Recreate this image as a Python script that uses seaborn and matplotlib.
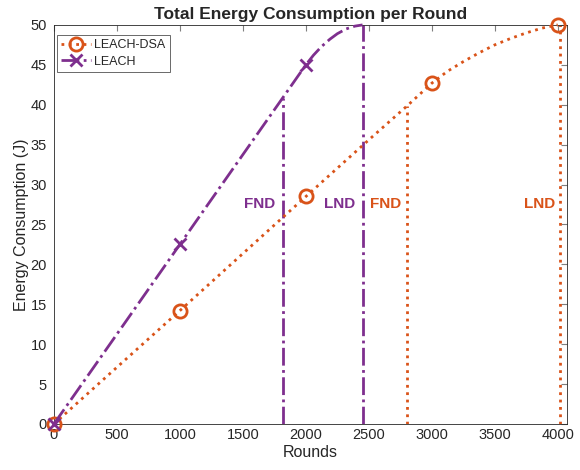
import matplotlib
matplotlib.use("Agg")
import matplotlib.pyplot as plt
import seaborn as sns
import pandas as pd

# datos
dsa_rounds = [0, 500, 1000, 1500, 2000, 2500, 2800, 3000, 3125, 3250, 3375, 3500, 3625, 3750, 3875, 4000]
dsa_energy = [0, 7.1, 14.2, 21.35, 28.5, 35.6, 39.8, 42.7, 44.2, 45.4, 46.5, 47.5, 48.3, 49.0, 49.6, 50.0]

leach_rounds = [0, 500, 1000, 1500, 1818, 2000, 2060, 2125, 2190, 2250, 2320, 2390, 2450]
leach_energy = [0, 11.25, 22.5, 33.75, 40.9, 45.0, 46.2, 47.3, 48.2, 48.9, 49.5, 49.85, 50.0]

marker_rounds = [0, 1000, 2000, 3000, 4000]

# FND / LND
leach_events = [1818, 2450]
leach_event_top = [40.9, 50.0]
dsa_events = [2800, 4020]
dsa_event_top = [39.8, 50.0]
event_labels = ["FND", "LND"]

orange = "#D95319"
purple = "#7E2F8E"

sns.set_style("white")
plt.rcParams["font.family"] = ["Liberation Sans", "DejaVu Sans"]

df_dsa = pd.DataFrame({"Rounds": dsa_rounds, "Energy": dsa_energy})
df_leach = pd.DataFrame({"Rounds": leach_rounds, "Energy": leach_energy})

fig = plt.figure(figsize=(5.8, 4.7), dpi=100)
ax = fig.add_axes([0.093, 0.098, 0.885, 0.849])

dsa_marks = [i for i, r in enumerate(dsa_rounds) if r in marker_rounds]
leach_marks = [i for i, r in enumerate(leach_rounds) if r in marker_rounds]

sns.lineplot(data=df_dsa, x="Rounds", y="Energy", ax=ax, color=orange, linestyle=":",
             linewidth=2, marker="o", markersize=9.5, markevery=dsa_marks,
             markerfacecolor="none", markeredgecolor=orange, markeredgewidth=2,
             label="LEACH-DSA", clip_on=False, zorder=3)
sns.lineplot(data=df_leach, x="Rounds", y="Energy", ax=ax, color=purple, linestyle="-.",
             linewidth=2, marker="x", markersize=8, markevery=leach_marks,
             markeredgecolor=purple, markeredgewidth=2,
             label="LEACH", clip_on=False, zorder=3)

ax.vlines(leach_events, 0, leach_event_top, colors=purple, linestyles="-.", linewidth=2)
ax.vlines(dsa_events, 0, dsa_event_top, colors=orange, linestyles=":", linewidth=2)

for x, lab in zip(leach_events, event_labels):
    ax.text(x - 60, 27.6, lab, color=purple, fontsize=11, fontweight="bold",
            ha="right", va="center")
for x, lab in zip(dsa_events, event_labels):
    ax.text(x - 40, 27.6, lab, color=orange, fontsize=11, fontweight="bold",
            ha="right", va="center")

ax.set_xlim(0, 4075)
ax.set_ylim(0, 50)
ax.set_xticks(range(0, 4001, 500))
ax.set_yticks(range(0, 51, 5))
ax.tick_params(direction="in", length=4, labelsize=10.5, labelcolor="#262626",
               color="#7f7f7f", top=True, right=True, labeltop=False,
               labelright=False, pad=3)
ax.tick_params(axis="y", pad=5)
for s in ax.spines.values():
    s.set_color("#262626")
    s.set_linewidth(0.6)

ax.set_xlabel("Rounds", fontsize=11.5, color="#262626", labelpad=2)
ax.set_ylabel("Energy Consumption (J)", fontsize=11.5, color="#262626", labelpad=1)
ax.set_title("Total Energy Consumption per Round", fontsize=12.5, fontweight="bold", pad=4)

leg = ax.legend(loc="upper left", bbox_to_anchor=(0.006, 0.975), fontsize=9,
                frameon=True, fancybox=False, borderpad=0.35, handlelength=2.4,
                labelspacing=0.35, borderaxespad=0, handletextpad=0.2)
leg.get_frame().set_edgecolor("#262626")
leg.get_frame().set_linewidth(0.6)

fig.savefig("out.png", dpi=100)
